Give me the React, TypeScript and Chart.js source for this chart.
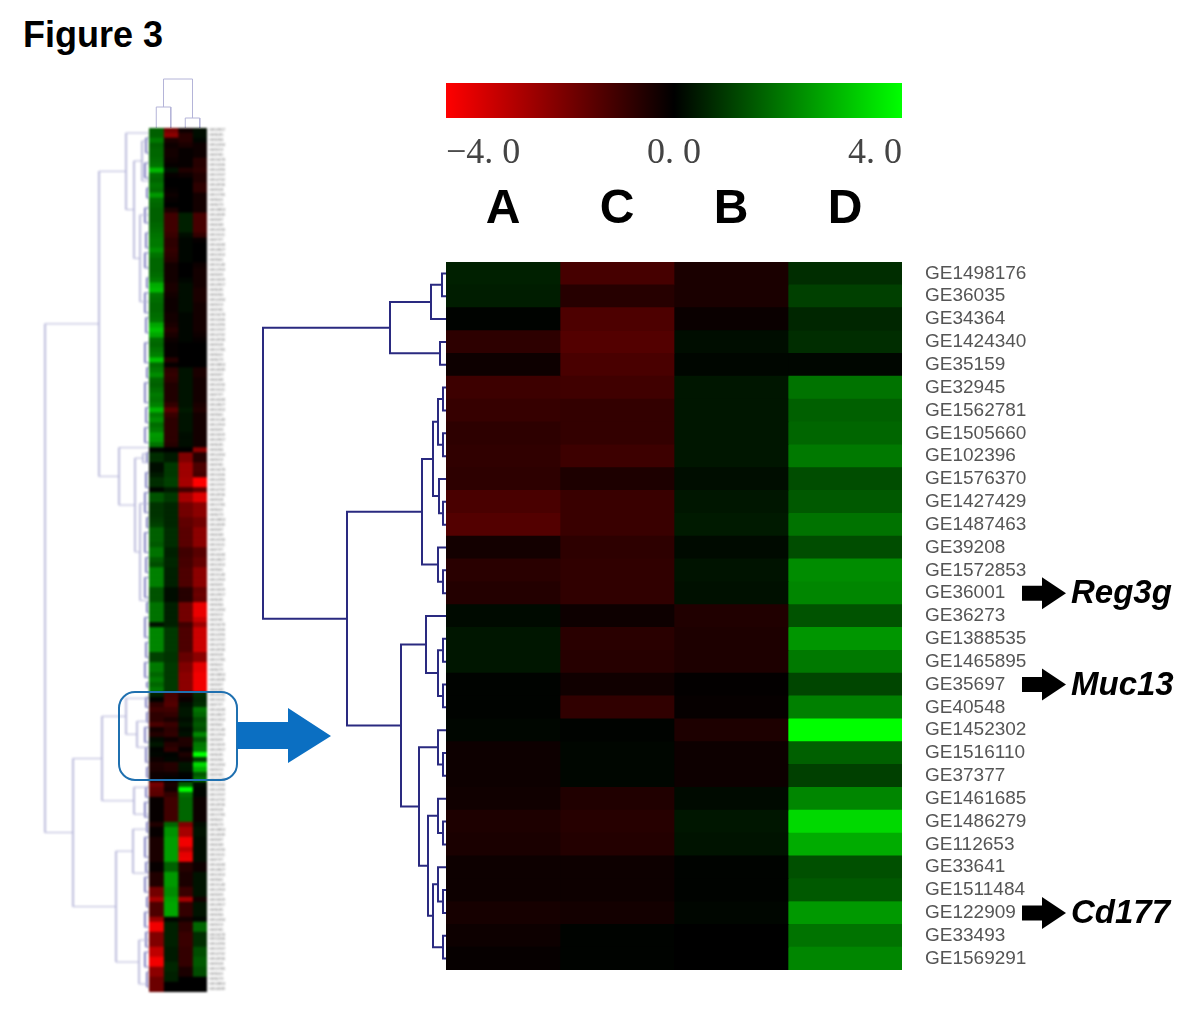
import React, { useEffect, useRef } from "react";
import { Chart, registerables } from "chart.js";

Chart.register(...registerables);

const geneLabels = ["GE1498176","GE36035","GE34364","GE1424340","GE35159","GE32945","GE1562781","GE1505660","GE102396","GE1576370","GE1427429","GE1487463","GE39208","GE1572853","GE36001","GE36273","GE1388535","GE1465895","GE35697","GE40548","GE1452302","GE1516110","GE37377","GE1461685","GE1486279","GE112653","GE33641","GE1511484","GE122909","GE33493","GE1569291"];
const columnNames = ["A", "C", "B", "D"];

const mainA = [0.5,0.45,0.05,-0.7,-0.2,-0.95,-0.85,-0.7,-0.75,-0.7,-1.15,-1.3,-0.3,-0.65,-0.55,0.15,0.35,0.35,0.05,0.05,0.1,-0.2,-0.2,-0.25,-0.45,-0.4,-0.2,-0.2,-0.35,-0.2,-0.1];
const mainC = [-1.1,-0.6,-1.2,-1.3,-1.15,-1.0,-0.8,-0.8,-0.95,-0.45,-0.9,-0.9,-0.7,-0.75,-0.75,-0.2,-0.65,-0.6,-0.25,-0.75,0.05,0.1,0.1,-0.5,-0.6,-0.55,-0.2,-0.2,-0.3,0.05,0.05];
const mainB = [-0.4,-0.4,-0.15,0.2,0.1,0.35,0.35,0.35,0.35,0.2,0.35,0.4,0.15,0.3,0.25,-0.5,-0.45,-0.45,-0.05,-0.1,-0.45,-0.2,-0.2,0.15,0.35,0.3,0.05,0.05,0.1,0,0];
const mainD = [0.7,1.0,0.6,0.7,0.1,1.8,1.5,1.6,1.9,1.2,1.4,1.8,1.2,2.2,2.1,1.3,2.35,1.9,1.1,2.0,4.0,1.5,1.0,2.1,3.4,2.7,1.25,1.4,2.4,1.8,2.1];

const ovA = [1.5,1.5,1.9,1.5,1.6,1.6,1.7,1.8,2.9,1.7,1.6,1.8,1.7,2.4,1.7,1.6,1.5,1.5,1.5,1.6,1.7,1.8,1.9,1.9,2.2,1.8,1.6,1.6,1.6,1.7,1.9,2.7,2.9,1.8,1.7,1.6,1.6,1.7,1.8,2.6,3.0,2.6,1.7,1.6,1.8,2.0,3.0,1.7,1.9,2.2,1.6,1.5,1.7,1.9,1.8,2.0,2.8,1.9,2.2,1.7,1.9,2.4,2.3,1.8,0.1,0.7,0.7,0.2,0.2,0.4,0.7,0.7,0.1,1.3,1.3,0.8,0.8,0.8,0.9,1.0,1.5,1.5,1.5,1.4,1.8,1.8,1.4,1.2,2.0,2.0,2.0,2.0,1.3,1.3,1.3,1.8,1.8,1.8,1.8,0.3,2.1,2.1,2.1,2.1,2.1,1.0,1.0,1.9,1.9,1.6,1.9,1.6,1.9,0.5,0.05,-0.7,-0.95,-0.7,-0.7,-1.15,-0.3,-0.55,0.15,0.35,0.05,0.1,-0.2,-0.45,-0.4,-0.2,-0.2,-1.8,-1.5,-1.4,-0.1,-0.1,-0.1,-0.1,-0.1,-0.5,-0.1,-0.1,-0.4,-0.4,-0.4,-0.4,-0.4,-0.1,-0.1,-0.5,-0.5,-0.5,-1.8,-1.8,-2.6,-1.2,-1.2,-1.2,-2.4,-3.8,-3.8,-2,-2,-2,-3,-3,-3.8,-3.8,-2.2,-2.2,-1.7,-1.7,-1.7];
const ovC = [-1.8,-2.2,-0.4,-0.2,-0.3,-0.3,-0.2,-0.1,0.3,-0.1,0,0,-0.1,-0.2,-0.1,0,-0.4,-1,-1,-1,-1,-0.9,-0.7,-0.7,-0.8,-0.7,-0.6,-0.3,-0.3,-0.3,-0.3,-0.4,-0.4,-0.3,-0.2,-0.2,-0.2,-0.3,-0.3,-0.4,-0.6,-0.4,-0.2,-0.1,-0.1,-0.1,-0.6,-0.1,-0.7,-0.8,-0.7,-0.5,-0.5,-0.5,-0.5,-0.8,-1.4,-0.9,-0.7,-0.7,-0.7,-0.7,-0.7,-0.6,0,0.4,0.4,0.9,0.9,0.9,1,1,0.4,0.9,0.9,0.6,0.6,0.6,0.6,0.6,0.7,0.7,0.7,0.7,0.5,0.5,0.6,0.6,0.5,0.5,0.5,0.5,0.2,0.2,0.2,0.5,0.5,0.5,0.5,0.5,0.9,0.9,0.9,0.9,0.9,0.8,0.8,0.9,0.9,0.9,0.9,0.9,0.9,-1.1,-1.2,-1.3,-1,-0.8,-0.45,-0.9,-0.7,-0.75,-0.2,-0.6,-0.75,0.05,0.1,-0.6,-0.55,-0.2,0.05,-0.4,-0.3,-0.8,-1,-1,-1,-1,-1,1.6,2.3,2.3,2.5,2.5,2.5,2.5,2.5,1.5,1.5,2.4,2.4,2.4,2.2,2.2,2.5,2.6,2.6,2.6,0.1,0.5,0.5,0.5,0.5,0.5,0.4,0.4,0.4,0.6,0.6,0.5,0.5,0,0,0];
const ovB = [-0.2,-0.6,-0.6,-0.4,-0.1,-0.1,-0.1,-0.1,-0.5,-0.2,0,0,0,0,0,0,0,0.5,0.5,0.5,0.5,0.2,0.1,0.1,0.1,0.1,0.1,0,0,0,0.1,0.2,0.2,0.2,0.2,0.2,0.2,0.1,0.1,0.1,0.1,0.1,0.1,0,0,0,0,0,0.3,0.3,0.3,0.3,0.3,0.3,0.3,0.3,0.4,0.3,0.3,0.3,0.3,0.2,0.2,0.2,0,-2,-2,-2.5,-2.5,-2.5,-2.6,-2.6,-1,-2.6,-2.6,-1.8,-1.8,-1.8,-1.5,-1.5,-1.4,-1.4,-1.4,-1.4,-1,-1,-1.1,-1.1,-1.2,-1.2,-1.2,-1.2,-0.6,-0.6,-0.6,-1.8,-1.8,-1.8,-1.8,-1,-1.2,-1.2,-1.2,-1.2,-1.2,-1.6,-1.6,-2,-2,-2.2,-2.2,-2.2,-2.2,-0.4,-0.15,0.2,0.35,0.35,0.2,0.35,0.15,0.25,-0.5,-0.45,-0.1,-0.45,-0.2,0.35,0.3,0.05,0,1.5,4,1.8,1.6,1.6,1.6,1.6,1.6,-2,-2.6,-2.6,-3.8,-3.8,-3,-3.6,-3.7,-0.6,-0.6,-0.4,-0.4,-0.4,-0.9,-0.9,-2.6,-0.8,-0.8,-0.8,-0.3,-0.7,-0.7,-0.9,-0.9,-0.9,-0.8,-0.8,-0.8,-0.8,-0.4,-0.4,0,0,0];
const ovD = [0.2,0.2,0.1,-0.2,-0.2,-0.2,-0.6,-0.6,-0.7,-0.5,-0.5,-0.7,-0.7,-0.3,-0.3,-0.3,-0.3,-1.1,-1.1,-1.1,-1.1,-0.8,-0.1,0,0,0,0,-0.2,-0.3,-0.3,-0.3,-0.3,-0.4,-0.4,-0.4,-0.3,-0.3,-0.3,-0.3,-0.3,-0.3,-0.2,-0.1,0,0,0,0,0,-0.4,-0.4,-0.3,-0.3,-0.3,-0.3,-0.3,-0.4,-0.5,-0.3,-0.3,-0.3,-0.3,-0.3,-0.3,-0.3,-2.2,-0.6,-0.6,-1.2,-1.2,-1.1,-4,-4,-1.5,-3.5,-3.5,-2.2,-2.2,-2.2,-1.8,-1.8,-2.2,-2.2,-2.2,-2.2,-1.4,-1.4,-1.6,-1.6,-2.2,-2.2,-2.2,-2.2,-1.6,-1.7,-1.6,-3.7,-3.7,-3.7,-3.2,-2.5,-3.2,-3.2,-3.2,-3.2,-3.2,-2.2,-2.2,-3.6,-3.6,-3.8,-3.8,-3.8,-3.8,0.7,0.6,0.7,1.8,1.6,1.2,1.4,1.2,2.1,1.3,1.9,2,4,1,3.4,2.7,1.4,1.8,0.2,0.1,0.1,-0.2,-0.2,-0.2,-0.2,-0.2,0.2,0.3,0.3,0.2,0.2,0.2,0.2,0.2,-0.2,-0.2,0.3,0.3,0.3,0.3,0.3,-0.3,0.3,0.3,0.3,0.1,1.6,1.6,0.7,0.7,0.7,1.2,1.2,1.4,1.4,1.2,1.2,0,0,0];
const ovLabels = ovA.map((_, i) => geneLabels[i % geneLabels.length]);

type Node = number | [number, Node, Node];

const mainTree: Node = [183,
  [56, [15, [4, 0.5, 1.5], 2.5], [6, 3.5, 4.5]],
  [99,
    [24,
      [13, [8, [3, 5.5, 6.5], [3, 7.5, 8.5]], [7, 9.5, [3, 10.5, 11.5]]],
      [8, 12.5, [3, 13.5, 14.5]]],
    [45,
      [20, 15.5, [8, [3, 16.5, 17.5], [3, 18.5, 19.5]]],
      [27,
        [8, 20.5, [3, 21.5, 22.5]],
        [18,
          [8, 23.5, [3, 24.5, 25.5]],
          [13, [8, 26.5, [3, 27.5, 28.5]], [3, 29.5, 30.5]]]]]]];

const overviewTree: Node = [104,
  [50,
    [23, 1, [15, [7, 2.6, 10.6], [9, 17.4, 34.8]]],
    [30, 64, [14, [6, 65.2, 67], [9, 75.2, 94.6]]]],
  [76,
    [47, [23, 114.2, [12, 118.8, 124]], [15, 132, 137.4]],
    [33, [16, 140.4, 149.2], [10, 162.6, 171.4]]]];

const overviewFine: [number, number, number][] = [[3,2,5],[4,7,10],[2,12,14],[4,16,19],[3,21,24],[4,25,28],[2,30,32],[4,33,37],[3,38,41],[4,43,47],[2,48,50],[4,51,55],[3,56,59],[4,60,63],[2,65,67],[3,69,72],[4,73,77],[2,78,80],[4,81,85],[3,86,89],[4,90,94],[2,95,97],[4,98,102],[3,103,106],[4,107,110],[2,111,112],[3,114,116],[2,117,119],[4,120,123],[3,124,127],[2,128,130],[3,132,134],[4,135,138],[2,139,141],[4,142,146],[3,147,149],[4,150,153],[2,154,156],[4,157,160],[3,161,164],[4,165,168],[2,169,172]];

const columnTree: Node = [49, [21, 0.5, 1.5], [10, 2.5, 3.5]];

const colorTickValues = [-4, 0, 4];
const colorTickLabels = ["\u22124. 0", "0. 0", "4. 0"];
const markerGenes = ["GE36001", "GE35697", "GE122909"];
const markerNames = ["Reg3g", "Muc13", "Cd177"];

const heat = (v: number) => {
  const c = Math.round(Math.min(1, Math.abs(v) / 4) * 255);
  return v < 0 ? `rgb(${c},0,0)` : `rgb(0,${c},0)`;
};

const ARIAL = "'Liberation Sans',Arial,sans-serif";
const SERIF = "'Liberation Serif',serif";

const noPad = (s: any) => {
  s.paddingLeft = 0;
  s.paddingRight = 0;
  s.paddingTop = 0;
  s.paddingBottom = 0;
};

function flatten(node: Node, out: { x: number; y: number }[]) {
  if (typeof node === "number") return { pos: node, dist: 0 };
  const a = flatten(node[1], out);
  const b = flatten(node[2], out);
  out.push({ x: a.dist, y: a.pos }, { x: node[0], y: a.pos }, { x: node[0], y: b.pos }, { x: b.dist, y: b.pos }, { x: NaN, y: NaN });
  return { pos: (a.pos + b.pos) / 2, dist: node[0] };
}
const treePoints = (t: Node) => {
  const out: { x: number; y: number }[] = [];
  flatten(t, out);
  return out;
};

const blackBack = {
  id: "blackBack",
  beforeDatasetsDraw(c: any) {
    const a = c.chartArea;
    c.ctx.fillStyle = "#000";
    c.ctx.fillRect(a.left, a.top, a.right - a.left, a.bottom - a.top);
  },
};

const geneArrows = {
  id: "geneArrows",
  afterDraw(c: any) {
    const ctx = c.ctx;
    const ys = c.scales.y;
    const x0 = c.chartArea.right + 120;
    markerGenes.forEach((g, i) => {
      const y = ys.getPixelForValue(geneLabels.indexOf(g));
      ctx.save();
      ctx.fillStyle = "#000";
      ctx.beginPath();
      ctx.moveTo(x0, y - 7.5);
      ctx.lineTo(x0 + 20, y - 7.5);
      ctx.lineTo(x0 + 20, y - 16);
      ctx.lineTo(x0 + 44, y);
      ctx.lineTo(x0 + 20, y + 16);
      ctx.lineTo(x0 + 20, y + 7.5);
      ctx.lineTo(x0, y + 7.5);
      ctx.closePath();
      ctx.fill();
      ctx.font = `italic bold 33px ${ARIAL}`;
      ctx.textBaseline = "middle";
      ctx.textAlign = "left";
      ctx.fillText(markerNames[i], x0 + 49, y + 1);
      ctx.restore();
    });
  },
};

const heatSets = (cols: number[][], names: string[]) =>
  cols.map((vals, i) => ({
    label: names[i],
    data: vals.map(() => 1),
    backgroundColor: vals.map(heat),
    borderWidth: 0,
    barPercentage: 1,
    categoryPercentage: 1,
  }));

const mainConfig = () => ({
  type: "bar",
  data: { labels: geneLabels, datasets: heatSets([mainA, mainC, mainB, mainD], columnNames) },
  plugins: [blackBack, geneArrows],
  options: {
    indexAxis: "y",
    responsive: false,
    animation: false,
    layout: { padding: { bottom: 10 } },
    plugins: { legend: { display: false }, tooltip: { enabled: false } },
    scales: {
      x: {
        stacked: true, position: "top", min: 0, max: 4,
        grid: { display: false, drawTicks: false }, border: { display: false },
        afterBuildTicks: (s: any) => { s.ticks = [0.5, 1.5, 2.5, 3.5].map((value) => ({ value })); },
        afterFit: (s: any) => { s.height = 82; noPad(s); },
        ticks: { maxRotation: 0, autoSkip: false, padding: 23, color: "#000",
          font: { family: ARIAL, size: 48, weight: "bold" },
          callback: (v: number) => columnNames[Math.floor(v)] },
      },
      y: {
        stacked: true, position: "right",
        grid: { display: false, drawTicks: false }, border: { display: false },
        afterFit: (s: any) => { s.width = 298; noPad(s); },
        ticks: { autoSkip: false, padding: 23, crossAlign: "near", color: "#555",
          font: { family: ARIAL, size: 19 } },
      },
    },
  },
});

const overviewConfig = () => ({
  type: "bar",
  data: { labels: ovLabels, datasets: heatSets([ovA, ovC, ovB, ovD], columnNames) },
  plugins: [blackBack],
  options: {
    indexAxis: "y",
    responsive: false,
    animation: false,
    plugins: { legend: { display: false }, tooltip: { enabled: false } },
    scales: {
      x: { stacked: true, display: false, min: 0, max: 4 },
      y: {
        stacked: true, position: "right",
        grid: { display: false, drawTicks: false }, border: { display: false },
        afterFit: (s: any) => { s.width = 18; noPad(s); },
        ticks: { autoSkip: false, padding: 2, crossAlign: "near", color: "#666",
          font: { family: ARIAL, size: 3.4 } },
      },
    },
  },
});

const lineSet = (data: any[], color: string, width: number) => ({
  data, showLine: true, pointRadius: 0, borderColor: color, borderWidth: width,
  spanGaps: false, tension: 0, clip: false,
});

const treeOptions = (xMax: number, yMax: number) => ({
  responsive: false,
  animation: false,
  plugins: { legend: { display: false }, tooltip: { enabled: false } },
  scales: {
    x: { type: "linear", display: false, min: 0, max: xMax, reverse: true },
    y: { type: "linear", display: false, min: 0, max: yMax, reverse: true },
  },
});

const mainTreeConfig = () => ({
  type: "scatter",
  data: { datasets: [lineSet(treePoints(mainTree), "#2a2a80", 2)] },
  options: treeOptions(186, geneLabels.length),
});

const overviewTreeConfig = () => {
  const fine: any[] = [];
  overviewFine.forEach(([d, a, b]) => {
    fine.push({ x: 0, y: a }, { x: d, y: a }, { x: d, y: b }, { x: 0, y: b }, { x: NaN, y: NaN });
  });
  return {
    type: "scatter",
    data: { datasets: [lineSet(treePoints(overviewTree), "#b4b4d8", 1), lineSet(fine, "#7070b8", 1)] },
    options: treeOptions(109, ovA.length),
  };
};

const columnTreeConfig = () => {
  const pts = treePoints(columnTree).map((p) => ({ x: p.y, y: p.x }));
  return {
    type: "scatter",
    data: { datasets: [lineSet(pts, "#b4b4d8", 1)] },
    options: {
      responsive: false,
      animation: false,
      plugins: { legend: { display: false }, tooltip: { enabled: false } },
      scales: {
        x: { type: "linear", display: false, min: 0, max: 4 },
        y: { type: "linear", display: false, min: 0, max: 52 },
      },
    },
  };
};

const colorBarConfig = () => ({
  type: "bar",
  data: {
    labels: [""],
    datasets: [{
      data: [[colorTickValues[0], colorTickValues[2]]],
      barPercentage: 1, categoryPercentage: 1, borderWidth: 0,
      backgroundColor: (ctx: any) => {
        const a = ctx.chart.chartArea;
        if (!a) return "#000";
        const g = ctx.chart.ctx.createLinearGradient(a.left, 0, a.right, 0);
        g.addColorStop(0, heat(colorTickValues[0]));
        g.addColorStop(0.5, heat(colorTickValues[1]));
        g.addColorStop(1, heat(colorTickValues[2]));
        return g;
      },
    }],
  },
  options: {
    indexAxis: "y",
    responsive: false,
    animation: false,
    plugins: { legend: { display: false }, tooltip: { enabled: false } },
    scales: {
      y: { display: false },
      x: {
        min: -4, max: 4, position: "bottom",
        grid: { display: false, drawTicks: false }, border: { display: false },
        afterBuildTicks: (s: any) => { s.ticks = colorTickValues.map((value) => ({ value })); },
        afterFit: (s: any) => { s.height = 60; noPad(s); },
        ticks: { autoSkip: false, maxRotation: 0, align: "inner", padding: 14, color: "#444",
          font: { family: SERIF, size: 36 },
          callback: (v: number) => colorTickLabels[colorTickValues.indexOf(v)] },
      },
    },
  },
});

function Panel({ left, top, width, height, make, blur }: any) {
  const ref = useRef<HTMLCanvasElement>(null);
  useEffect(() => {
    const chart = new Chart(ref.current as any, make());
    return () => chart.destroy();
  }, []);
  return (
    <canvas
      ref={ref}
      width={width}
      height={height}
      style={{ position: "absolute", left, top, width, height, filter: blur ? `blur(${blur}px)` : undefined }}
    />
  );
}

export default function App() {
  return (
    <div style={{ position: "absolute", left: 0, top: 0, width: 1200, height: 1012, background: "#fff", overflow: "hidden" }}>
      <div style={{ position: "absolute", left: 23, top: 14, font: `bold 36px ${ARIAL}`, color: "#000" }}>Figure 3</div>
      <Panel left={40} top={128} width={109} height={864} make={overviewTreeConfig} blur={0.8} />
      <Panel left={149} top={76} width={58} height={52} make={columnTreeConfig} blur={0.5} />
      <Panel left={149} top={128} width={76} height={864} make={overviewConfig} blur={1.1} />
      <Panel left={260} top={262} width={186} height={708} make={mainTreeConfig} blur={0.4} />
      <Panel left={446} top={83} width={456} height={95} make={colorBarConfig} blur={0.4} />
      <Panel left={446} top={180} width={754} height={800} make={mainConfig} blur={0.4} />
      <svg width={1200} height={1012} style={{ position: "absolute", left: 0, top: 0, pointerEvents: "none" }}>
        <rect x={119} y={692} width={118} height={88} rx={16} fill="none" stroke="#1f70b0" strokeWidth={2} />
        <polygon points="237,722 288,722 288,708 331,736 288,763 288,749 237,749" fill="#0b6fc2" />
      </svg>
    </div>
  );
}
